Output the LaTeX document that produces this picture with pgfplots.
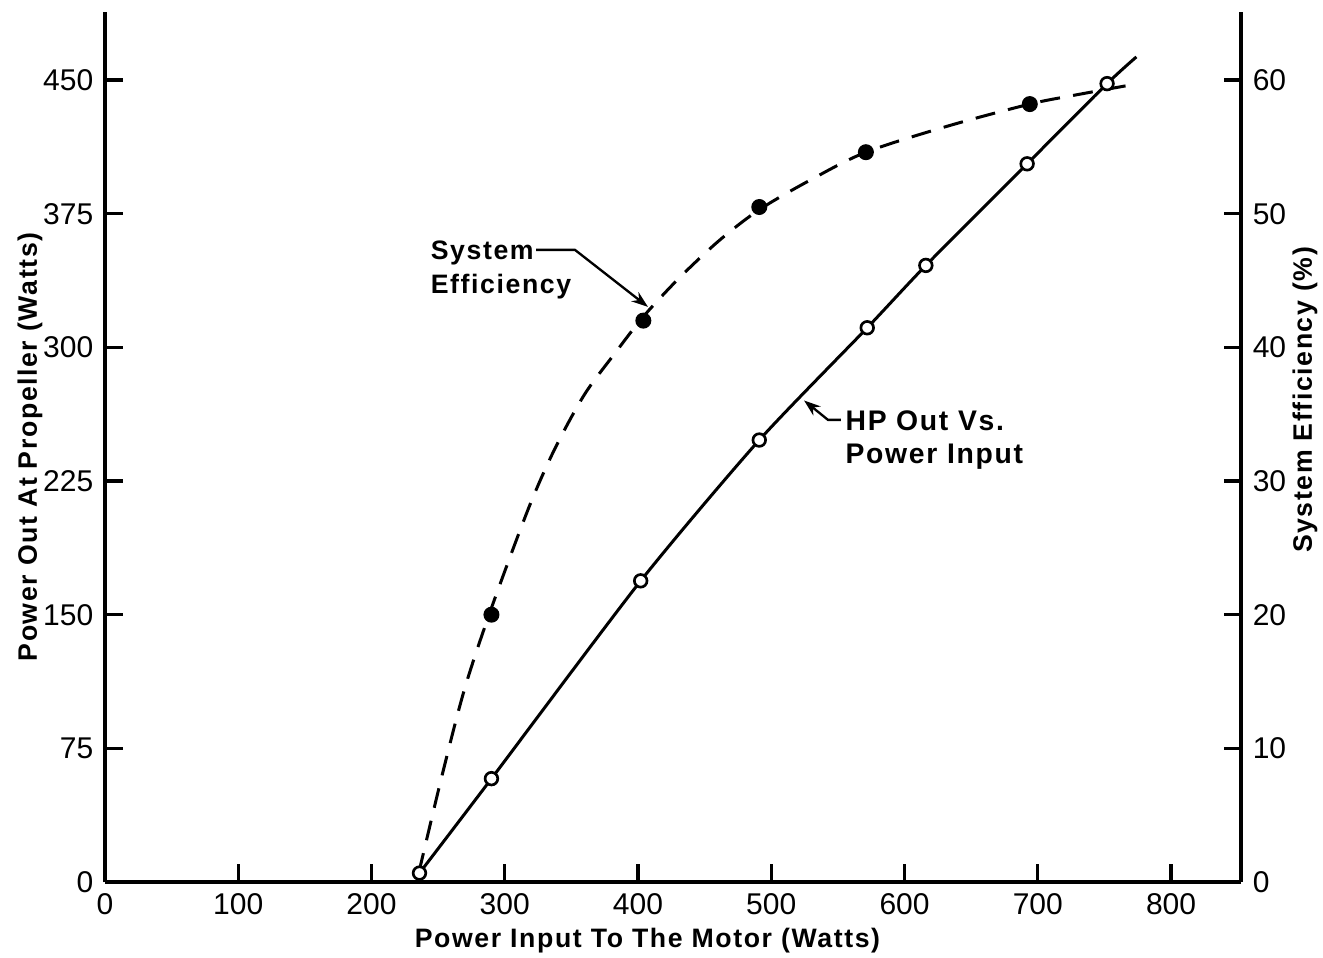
\documentclass[border=0pt]{standalone}
\usepackage{fontspec}
\setmainfont{Liberation Sans}
\newfontfamily\lbl[LetterSpace=6]{Liberation Sans}
\usepackage{pgfplots}
\pgfplotsset{compat=1.18}
\usetikzlibrary{arrows.meta}

% one px of the reference = 0.3pt
\pgfplotsset{
  base/.style={
    scale only axis, width=340.8pt, height=261pt,
    at={(0,0)}, anchor=south west,
    xmin=0, xmax=852.5,
    axis line style={line width=1.2pt},
    tick align=inside,
    tick style={line width=1pt, black},
    /pgf/number format/assume math mode=true,
    ticklabel style={font=\fontsize{9}{10}\selectfont},
    label style={font=\lbl\bfseries\fontsize{8}{9}\selectfont},
    clip=false,
  },
}

\begin{document}
\begin{tikzpicture}
% right axis: system efficiency in %
\begin{axis}[base, name=eff,
  axis x line=none, axis y line*=right,
  ymin=0, ymax=65.09,
  ytick={0,10,...,60},
  major tick length=5pt,
  ylabel={System Efficiency (\%)},
  ylabel style={at={(axis description cs:1.0563,0.554)}, anchor=center},
]
  % dashed curve
  \addplot[black, line width=0.9pt, dash pattern=on 6pt off 4pt, smooth, tension=0.5]
    coordinates {
      (235.5,0.7)(253,8)(270,14.5)(290,20.5)(318,28)(338,32.5)(360,36.5)
      (383,39.6)(404,42.3)(431,45.2)(461,48.0)(491,50.3)(529,52.5)(571,54.6)
      (634,56.6)(694,58.2)(724,58.8)(768,59.6)
    };
  % measured points
  \addplot[only marks, mark=*, mark size=2.2pt, black]
    coordinates {
      (290,20)(404,42)(491,50.5)(571,54.6)(694,58.2)
    };
\end{axis}

% left axis: power out at propeller
\begin{axis}[base, name=main,
  axis x line*=bottom, axis y line*=left,
  ymin=0, ymax=488.2,
  xtick={0,100,...,800},
  ytick={0,75,...,450},
  major tick length=5.5pt,
  xlabel={Power Input To The Motor (Watts)},
  xlabel style={at={(axis description cs:0.4775,0)}, anchor=base, yshift=-19.5pt},
  ylabel={Power Out At Propeller (Watts)},
  ylabel style={at={(axis description cs:-0.066,0.5)}, anchor=center},
]
  \addplot[black, line width=0.9pt, smooth, tension=0.4]
    coordinates {
      (236,5)(290,58)(402,169)(491,248)(572,311)(616,346)(692,403)(752,448)(774,463)
    };
  \addplot[only marks, mark=*, mark size=1.9pt, mark options={fill=white, draw=black, line width=0.8pt}]
    coordinates {
      (236,5)(290,58)(402,169)(491,248)(572,311)(616,346)(692,403)(752,448)
    };

  % annotations
  \node[anchor=base west, inner sep=0pt, font=\lbl\bfseries\fontsize{8}{9}\selectfont]
    at (axis cs:244,349.3) {System};
  \node[anchor=base west, inner sep=0pt, font=\lbl\bfseries\fontsize{8}{9}\selectfont]
    at (axis cs:244,330.5) {Efficiency};
  \draw[line width=0.7pt, -{Stealth[length=5pt,width=3.5pt]}]
    (axis cs:323.5,354.7) -- (axis cs:352.7,354.7) -- (axis cs:407.5,322.7);

  \node[anchor=base west, inner sep=0pt, font=\lbl\bfseries\fontsize{8.5}{9}\selectfont]
    at (axis cs:555.3,253.1) {HP Out Vs.};
  \node[anchor=base west, inner sep=0pt, font=\lbl\bfseries\fontsize{8.5}{9}\selectfont]
    at (axis cs:555.3,234.6) {Power Input};
  \draw[line width=0.7pt, -{Stealth[length=5pt,width=3.5pt]}]
    (axis cs:552.3,259.3) -- (axis cs:542.6,259.3) -- (axis cs:524.6,270.2);
\end{axis}

\pgfresetboundingbox
\path[use as bounding box]
  ([shift={(-31.5pt,-22.5pt)}]main.south west) rectangle ([shift={(24.6pt,3.6pt)}]main.north east);
\end{tikzpicture}
\end{document}
